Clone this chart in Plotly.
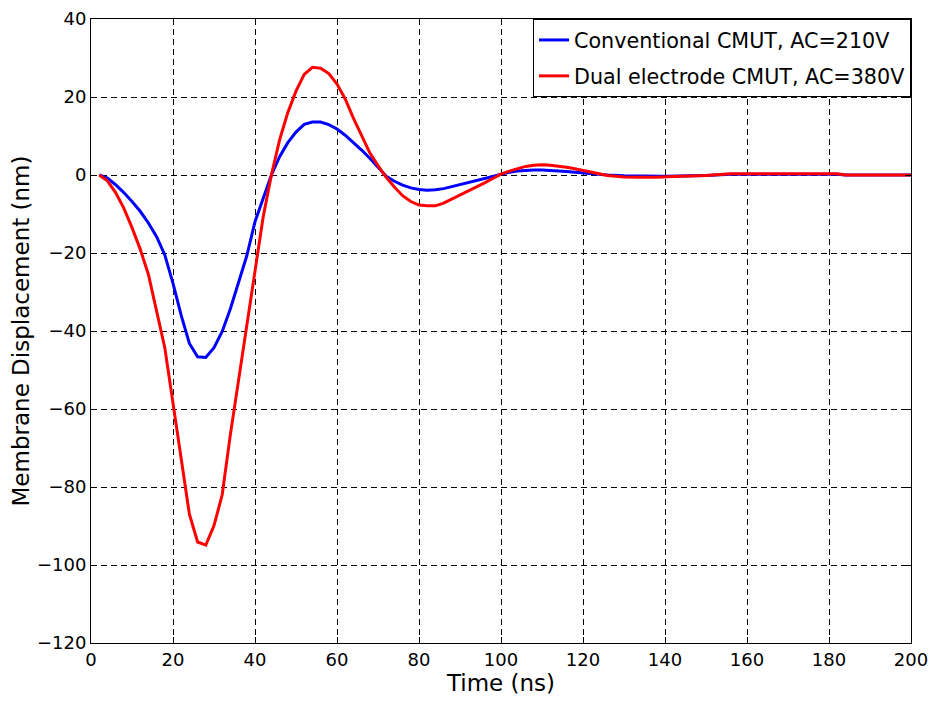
import plotly.graph_objects as go

# Time samples (ns)
t_conv = [2, 4, 6, 8, 10, 12, 14, 16, 18, 20, 22, 24, 26, 28, 30, 32, 34, 36, 38, 40,
          42, 44, 46, 48, 50, 52, 54, 56, 58, 60, 62, 64, 66, 68, 70, 72, 74, 76, 78, 80,
          82, 84, 86, 88, 90, 92, 94, 96, 98, 100, 102, 104, 106, 108, 110, 112, 114, 116,
          118, 120, 122, 124, 126, 130, 140, 150, 156, 182, 184, 200]
y_conv = [0, -0.8, -2.5, -4.5, -6.8, -9.3, -12.3, -15.8, -20.5, -27.8, -36, -43.2, -46.6, -46.8,
          -44.3, -40.1, -34.3, -27.7, -20.7, -12, -5.8, 0, 4.7, 8.3, 11, 13, 13.6, 13.6, 12.9,
          11.8, 10.2, 8.4, 6.4, 4.3, 1.9, -0.3, -1.6, -2.6, -3.3, -3.7, -3.9, -3.8, -3.5, -3.0,
          -2.5, -1.9, -1.4, -0.9, -0.4, 0.2, 0.7, 1.0, 1.2, 1.3, 1.3, 1.2, 1.1, 0.9, 0.7, 0.5,
          0.3, 0.1, 0, -0.2, -0.3, -0.1, 0.2, 0.2, 0, 0]

t_dual = [2, 4, 6, 8, 10, 12, 14, 16, 18, 20, 22, 24, 26, 28, 30, 32, 34, 36, 38, 40,
          42, 44, 46, 48, 50, 52, 54, 56, 58, 60, 62, 64, 66, 68, 70, 72, 74, 76, 78, 80,
          82, 84, 86, 88, 90, 92, 94, 96, 98, 100, 102, 104, 106, 108, 110, 112, 114, 116,
          118, 120, 122, 124, 126, 128, 130, 134, 138, 142, 146, 150, 156, 182, 184, 200]
y_dual = [0, -1.5, -4.5, -8.5, -13.5, -19, -25.5, -34.5, -44.3, -58.5, -73.2, -87, -94.1, -94.9,
          -89.9, -82, -66.5, -52.5, -39.3, -25.7, -10.7, 0, 9, 16, 21.5, 25.8, 27.6, 27.4, 26,
          23.3, 19.5, 14.6, 10.1, 5.7, 2.4, -0.6, -3.1, -5.3, -6.8, -7.7, -7.9, -7.9, -7.2,
          -6.2, -5.2, -4.0, -3.0, -2.0, -0.9, 0.2, 1.0, 1.7, 2.2, 2.5, 2.6, 2.5, 2.3, 2.0,
          1.6, 1.2, 0.7, 0.3, -0.1, -0.3, -0.5, -0.6, -0.6, -0.4, -0.3, -0.1, 0.3, 0.3, 0, 0]

x_ticks = list(range(0, 201, 20))
y_ticks = list(range(-120, 41, 20))

FONT = "DejaVu Sans, Liberation Sans, Arial, sans-serif"

fig = go.Figure()
fig.add_trace(go.Scatter(x=t_conv, y=y_conv, mode="lines",
                         line=dict(color="#0000ff", width=3),
                         name="Conventional CMUT, AC=210V", legendgroup="a"))
fig.add_trace(go.Scatter(x=t_dual, y=y_dual, mode="lines",
                         line=dict(color="#ff0000", width=3),
                         name="Dual electrode CMUT, AC=380V", legendgroup="b"))

axis_common = dict(
    showline=True, linecolor="black", linewidth=1, mirror="allticks",
    ticks="inside", ticklen=6, tickcolor="black",
    showgrid=True, gridcolor="#000000", gridwidth=1, griddash="6px,4px",
    zeroline=False, automargin=False,
    tickfont=dict(family=FONT, size=18, color="black"),
)

fig.update_xaxes(range=[0, 200], tickvals=x_ticks,
                 title=dict(text="Time (ns)", standoff=2,
                            font=dict(family=FONT, size=23, color="black")),
                 **axis_common)
fig.update_yaxes(range=[-120, 40], tickvals=y_ticks,
                 title=dict(text="Membrane Displacement (nm)", standoff=4,
                            font=dict(family=FONT, size=23, color="black")),
                 **axis_common)

fig.update_layout(
    width=929, height=694,
    margin=dict(l=83, r=26, t=11, b=59),
    paper_bgcolor="white", plot_bgcolor="white",
    legend=dict(x=1, y=1, xanchor="right", yanchor="top",
                bgcolor="white", bordercolor="black", borderwidth=1,
                font=dict(family=FONT, size=20.7, color="black"),
                traceorder="grouped", tracegroupgap=6),
    showlegend=True,
)

fig.write_html("out.html")
